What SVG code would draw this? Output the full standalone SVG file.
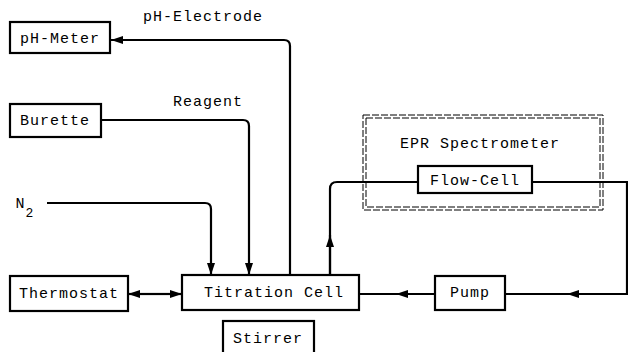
<svg xmlns="http://www.w3.org/2000/svg" width="628" height="352" viewBox="0 0 628 352">
<style>
.box{fill:#fff;stroke:#000;stroke-width:2.2}
.t{font-family:"Liberation Mono","DejaVu Sans Mono",monospace;font-size:15px;letter-spacing:1px;fill:#000;text-anchor:middle}
.c{fill:none;stroke:#000;stroke-width:2.2}
.dash{fill:none;stroke:#000;stroke-width:1;stroke-dasharray:7 2}
</style>
<defs>
<marker id="ah" viewBox="0 0 12 8" refX="12" refY="4" markerWidth="12" markerHeight="8" markerUnits="userSpaceOnUse" orient="auto">
<path d="M0,0 L12,4 L0,8 Z" fill="#000"/>
</marker>
</defs>
<g id="connectors">
<path class="c" d="M290,275 V46 Q290,40 284,40 H111" marker-end="url(#ah)"/>
<path class="c" d="M101,120 H243 Q249,120 249,126 V275" marker-end="url(#ah)"/>
<path class="c" d="M47,203 H205 Q211,203 211,209 V275" marker-end="url(#ah)"/>
<path class="c" d="M150,294 H128" marker-end="url(#ah)"/>
<path class="c" d="M150,294 H182" marker-end="url(#ah)"/>
<path class="c" d="M435,294 H359"/>
<path class="c" d="M435,294 H396" marker-end="url(#ah)"/>
<path class="c" d="M505,294 H627 V182 H532"/>
<path class="c" d="M627,294 H567" marker-end="url(#ah)"/>
<path class="c" d="M330,275 V189 Q330,182 337,182 H418"/>
<path class="c" d="M330,275 V235" marker-end="url(#ah)"/>
</g>
<g id="epr">
<rect class="dash" x="363" y="115" width="240" height="95"/>
<rect class="dash" x="366" y="118" width="234" height="89"/>
<text class="t" x="480" y="148">EPR Spectrometer</text>
</g>
<g id="ph-meter"><rect class="box" x="10" y="22" width="100" height="31"/><text class="t" x="60" y="43">pH-Meter</text></g>
<g id="burette"><rect class="box" x="10" y="104" width="91" height="33"/><text class="t" x="55" y="125">Burette</text></g>
<g id="thermostat"><rect class="box" x="10" y="276" width="118" height="35"/><text class="t" x="69" y="298">Thermostat</text></g>
<g id="titration-cell"><rect class="box" x="182" y="275" width="177" height="35"/><text class="t" x="274" y="297">Titration Cell</text></g>
<g id="stirrer"><rect class="box" x="223" y="321" width="91" height="36"/><text class="t" x="268" y="343">Stirrer</text></g>
<g id="pump"><rect class="box" x="435" y="276" width="70" height="34"/><text class="t" x="470" y="297">Pump</text></g>
<g id="flow-cell"><rect class="box" x="418" y="166" width="114" height="27"/><text class="t" x="475" y="185">Flow-Cell</text></g>
<g id="labels">
<text class="t" x="203" y="21">pH-Electrode</text>
<text class="t" x="208" y="106">Reagent</text>
<text class="t" x="25" y="208">N<tspan font-size="13" dy="9">2</tspan></text>
</g>
</svg>
